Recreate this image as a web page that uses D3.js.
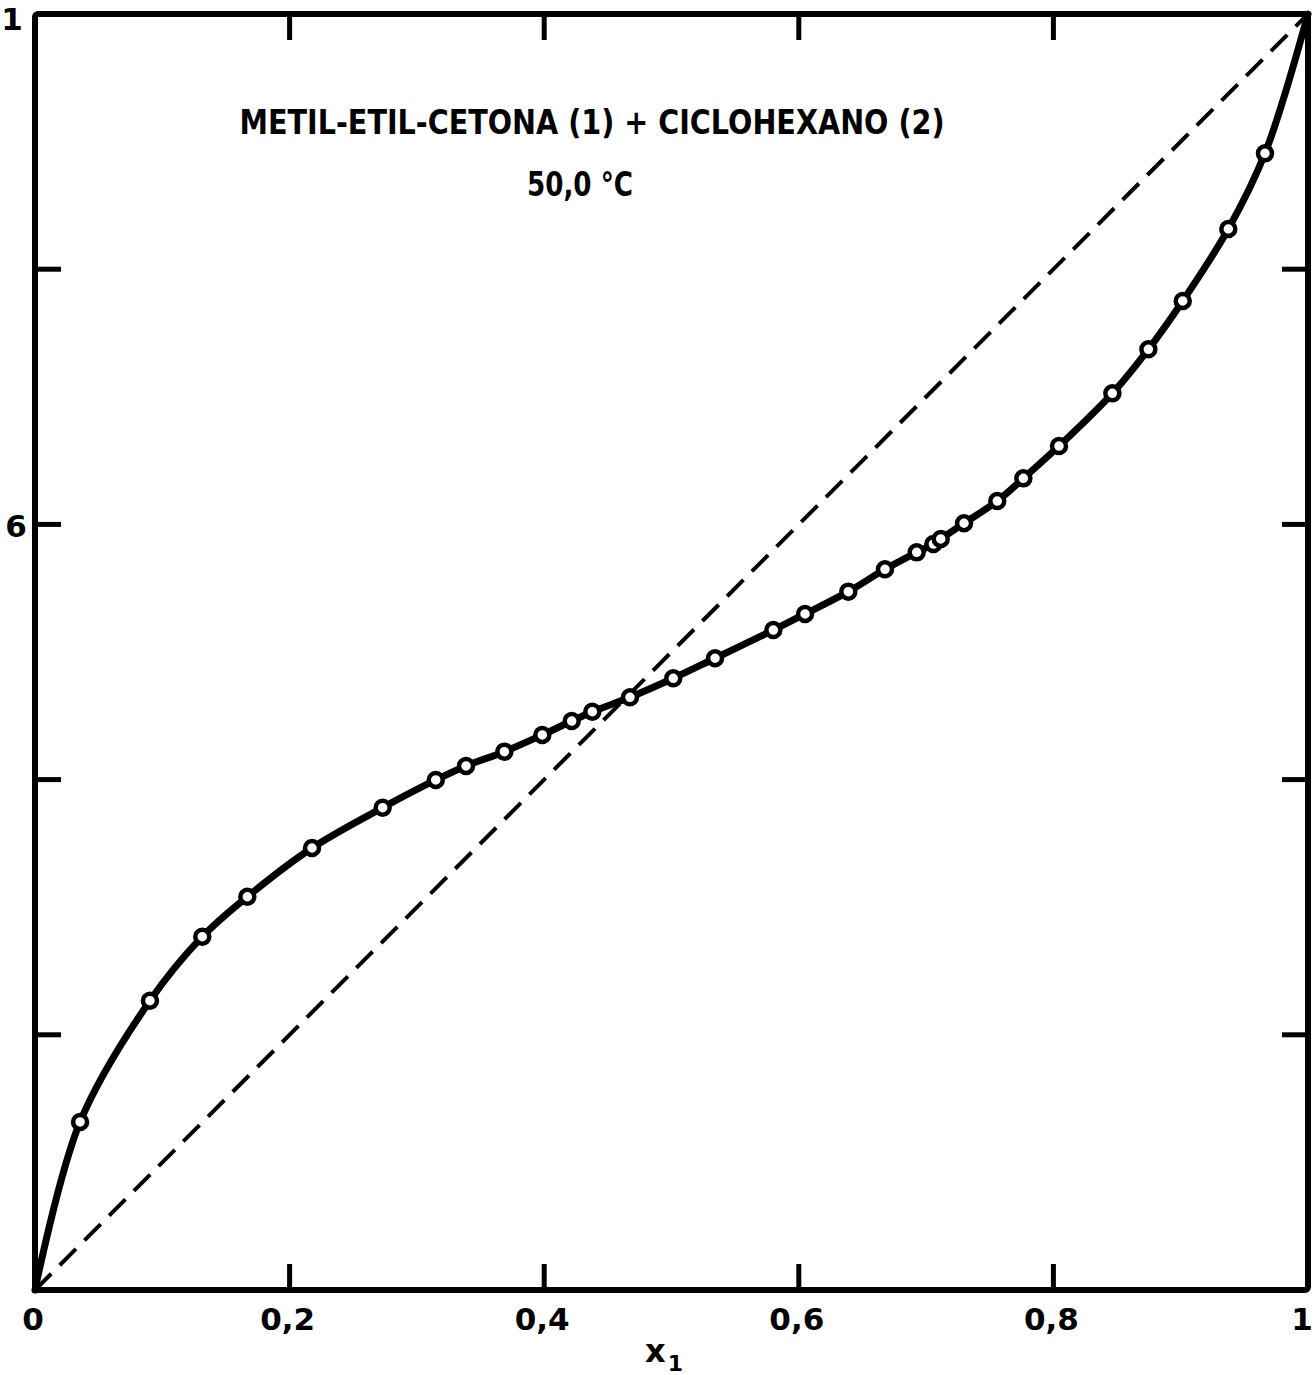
<!DOCTYPE html>
<html>
<head>
<meta charset="utf-8">
<script src="https://cdn.jsdelivr.net/npm/d3@7"></script>
<style>
  html, body { margin: 0; padding: 0; background: #fff; }
  svg { display: block; }
  text { font-family: "DejaVu Sans", "Liberation Sans", sans-serif; font-weight: bold; fill: #000; }
</style>
</head>
<body>
<svg id="chart" width="1314" height="1375"></svg>
<script>
// Vapour-liquid equilibrium: liquid mole fraction x1 vs vapour mole fraction y1
const x1Values = [0.0354, 0.0903, 0.1314, 0.1668, 0.2176, 0.2731, 0.3148, 0.3386, 0.3687, 0.3985,
                  0.4216, 0.4378, 0.4674, 0.5014, 0.5342, 0.5800, 0.6049, 0.6389, 0.6677, 0.6926,
                  0.7057, 0.7115, 0.7298, 0.7559, 0.7764, 0.8044, 0.8463, 0.8746, 0.9016, 0.9374,
                  0.9662];
const y1Values = [0.1317, 0.2267, 0.2769, 0.3082, 0.3464, 0.3780, 0.3997, 0.4107, 0.4219, 0.4350,
                  0.4459, 0.4532, 0.4645, 0.4794, 0.4951, 0.5172, 0.5298, 0.5473, 0.5648, 0.5781,
                  0.5846, 0.5886, 0.6009, 0.6183, 0.6361, 0.6614, 0.7027, 0.7372, 0.7751, 0.8315,
                  0.8908];
// Curve end points (pure components)
const curveEnds = [[0, 0], [1, 1]];

const xTickValues = [0, 0.2, 0.4, 0.6, 0.8, 1];
const xTickLabels = ["0", "0,2", "0,4", "0,6", "0,8", "1"];
const yTickValues = [0.2, 0.4, 0.6, 0.8];
const yTickLabels = [[1, "1"], [0.6, "6"]];

const titleLine1 = "METIL-ETIL-CETONA (1) + CICLOHEXANO (2)";
const titleLine2 = "50,0 °C";

(function draw() {
  const svg = d3.select("#chart");
  const mLeft = 35, mRight = 1308, mTop = 14, mBottom = 1290;

  const x = d3.scaleLinear().domain([0, 1]).range([mLeft, mRight]);
  const y = d3.scaleLinear().domain([0, 1]).range([mBottom, mTop]);

  // Diagonal reference line y1 = x1
  svg.append("line")
    .attr("x1", x(0)).attr("y1", y(0))
    .attr("x2", x(1)).attr("y2", y(1))
    .attr("stroke", "#000").attr("stroke-width", 4)
    .attr("stroke-dasharray", "23 12");

  // Equilibrium curve
  const pts = [curveEnds[0]].concat(x1Values.map((v, i) => [v, y1Values[i]]), [curveEnds[1]]);
  const line = d3.line().x(d => x(d[0])).y(d => y(d[1])).curve(d3.curveCatmullRom.alpha(0.5));
  svg.append("path")
    .attr("d", line(pts))
    .attr("fill", "none").attr("stroke", "#000")
    .attr("stroke-width", 7).attr("stroke-linejoin", "round").attr("stroke-linecap", "round");

  // Experimental points
  svg.append("g").selectAll("circle")
    .data(x1Values.map((v, i) => [v, y1Values[i]]))
    .join("circle")
    .attr("cx", d => x(d[0])).attr("cy", d => y(d[1]))
    .attr("r", 7).attr("fill", "#fff").attr("stroke", "#000").attr("stroke-width", 4.5);

  // Frame
  svg.append("rect")
    .attr("x", mLeft).attr("y", mTop)
    .attr("width", mRight - mLeft).attr("height", mBottom - mTop)
    .attr("fill", "none").attr("stroke", "#000").attr("stroke-width", 6)
    .attr("rx", 3);

  // Inward ticks on all four sides
  const tickLen = 26;
  const xInner = xTickValues.filter(v => v > 0 && v < 1);
  const ticks = svg.append("g").attr("stroke", "#000").attr("stroke-width", 5);
  ticks.selectAll(".tb").data(xInner).join("line").attr("class", "tb")
    .attr("x1", d => x(d)).attr("x2", d => x(d))
    .attr("y1", mBottom).attr("y2", mBottom - tickLen);
  ticks.selectAll(".tt").data(xInner).join("line").attr("class", "tt")
    .attr("x1", d => x(d)).attr("x2", d => x(d))
    .attr("y1", mTop).attr("y2", mTop + tickLen);
  ticks.selectAll(".tl").data(yTickValues).join("line").attr("class", "tl")
    .attr("x1", mLeft).attr("x2", mLeft + tickLen)
    .attr("y1", d => y(d)).attr("y2", d => y(d));
  ticks.selectAll(".tr").data(yTickValues).join("line").attr("class", "tr")
    .attr("x1", mRight).attr("x2", mRight - tickLen)
    .attr("y1", d => y(d)).attr("y2", d => y(d));

  // X tick labels
  svg.append("g").selectAll("text")
    .data(xTickValues)
    .join("text")
    .attr("x", (d, i) => i === xTickValues.length - 1 ? x(d) - 6 : x(d) - 2)
    .attr("y", 1330)
    .attr("text-anchor", "middle")
    .attr("font-size", 31)
    .text((d, i) => xTickLabels[i]);

  // Y tick labels
  svg.append("g").selectAll("text")
    .data(yTickLabels)
    .join("text")
    .attr("x", d => d[0] === 1 ? 12 : 16).attr("y", d => y(d[0]) + (d[0] === 1 ? 16 : 13))
    .attr("text-anchor", "middle")
    .attr("font-size", 31)
    .text(d => d[1]);

  // Axis title x1
  const xl = svg.append("text").attr("x", 645).attr("y", 1362).attr("font-size", 32);
  xl.append("tspan").text("x");
  xl.append("tspan").attr("font-size", 22).attr("dy", 9).attr("dx", 2).text("1");

  // Chart title
  svg.append("text")
    .attr("x", 592).attr("y", 134)
    .attr("text-anchor", "middle")
    .attr("font-size", 34)
    .attr("textLength", 705).attr("lengthAdjust", "spacingAndGlyphs")
    .text(titleLine1);
  svg.append("text")
    .attr("x", 580).attr("y", 196)
    .attr("text-anchor", "middle")
    .attr("font-size", 34)
    .attr("textLength", 106).attr("lengthAdjust", "spacingAndGlyphs")
    .text(titleLine2);
})();
</script>
</body>
</html>
